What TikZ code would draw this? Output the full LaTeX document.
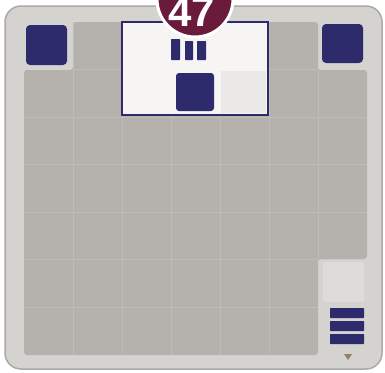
\documentclass[tikz,border=0pt]{standalone}
\usepackage{fontspec}
\setmainfont{Liberation Sans}
\definecolor{navy}{HTML}{2E2B6C}
\definecolor{band}{HTML}{D4D3D0}
\definecolor{inner}{HTML}{B5B2AD}
\definecolor{gridc}{HTML}{BFBCB8}
\definecolor{maroon}{HTML}{6A1B3C}
\definecolor{paper}{HTML}{F6F5F3}
\begin{document}
\begin{tikzpicture}[x=1pt,y=-1pt,
  darksq/.style={fill=navy,rounded corners=4pt},
  bar/.style={fill=navy,rounded corners=0.6pt}]
\useasboundingbox (0,0) rectangle (385,372);
\clip (0,0) rectangle (385,372);
\fill[white] (0,0) rectangle (385,372);
% board
\draw[fill=band,draw=gridc!90!black,line width=1.5pt,rounded corners=16pt] (5,6) rectangle (382,369);
% inner grey area
\path[fill=inner,rounded corners=3pt] (73,22) -- (318,22) -- (318,70) -- (367,70) -- (367,259) -- (318,259) -- (318,355) -- (24,355) -- (24,70) -- (73,70) -- cycle;
\begin{scope}
\clip (73,22) -- (318,22) -- (318,70) -- (367,70) -- (367,259) -- (318,259) -- (318,355) -- (24,355) -- (24,70) -- (73,70) -- cycle;
\foreach \x in {73,122,171,220,269,318} \draw[gridc,line width=1pt] (\x,22) -- (\x,355);
\foreach \y in {69.6,117.1,164.7,212.3,259.9,307.4} \draw[gridc,line width=1pt] (24,\y) -- (367,\y);
\end{scope}
% bottom-right light cell
\fill[paper!25!band,rounded corners=2pt] (323,262) rectangle (364,302);
% corner dark squares
\fill[darksq] (26,25) rectangle (67,65);
\fill[darksq] (322,24) rectangle (363,63);
% white box
\node[draw=navy,fill=paper,line width=2.5pt,minimum width=146pt,minimum height=93pt,inner sep=0pt] (box) at (195,68.5) {};
\fill[band!35!paper] (221,71) rectangle (266,113);
\fill[darksq,rounded corners=3pt] (176,73) rectangle (214,111);
\fill[bar] (171,39) rectangle (180,60);
\fill[bar] (185,41) rectangle (193,60);
\fill[bar] (197,41) rectangle (206,60);
% badge
\node[circle,fill=maroon,draw=white,line width=3pt,minimum size=76pt,inner sep=0pt] (badge) at (195,-1) {};
\node[text=white,font=\fontsize{42}{42}\selectfont\bfseries,anchor=base] (num) at (192,27) {47};
% bars bottom right
\fill[bar] (330,308) rectangle (364,318);
\fill[bar] (330,321) rectangle (364,331);
\fill[bar] (330,334) rectangle (364,344);
\fill[gray!70!brown] (344,354) -- (352,354) -- (348,360) -- cycle;
\end{tikzpicture}
\end{document}
